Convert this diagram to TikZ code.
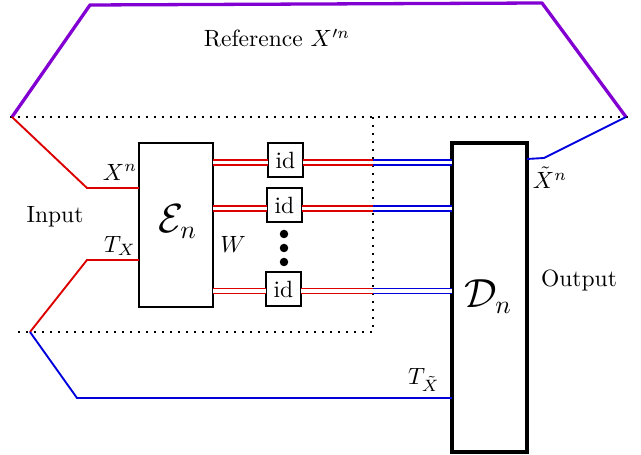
\documentclass[tikz,border=0pt]{standalone}
\usepackage{amsmath}
\begin{document}
\begin{tikzpicture}[x=0.425pt,y=-0.425pt,
  redc/.style={draw={rgb,255:red,220;green,0;blue,0}},
  bluec/.style={draw={rgb,255:red,0;green,0;blue,220}},
  sline/.style={line width=0.8pt},
  dline/.style={line width=0.6pt,double=white,double distance=1.5pt},
  dotline/.style={line width=0.9pt,dash pattern=on 0.9pt off 2.5pt},
  encbox/.style={draw,line width=0.95pt,inner sep=0pt,outer sep=0pt,minimum width=74*0.425pt,minimum height=164*0.425pt},
  decbox/.style={draw,line width=1.3pt,inner sep=0pt,outer sep=0pt,minimum width=75*0.425pt,minimum height=309*0.425pt},
  idbox/.style={draw,line width=0.95pt,inner sep=0pt,outer sep=0pt,minimum width=35*0.425pt,minimum height=34*0.425pt},
  bigdot/.style={circle,fill,inner sep=0pt,minimum size=8.5*0.425pt},
  lbl/.style={inner sep=0pt}
]
\useasboundingbox (0,0) rectangle (641,455);
% boxes
\node[encbox] (E) at (176,225) {};
\node[decbox] (D) at (489.5,297.5) {};
\node[idbox] (id1) at (285.5,160) {id};
\node[idbox] (id2) at (284.5,205) {id};
\node[idbox] (id3) at (283.5,289) {id};
\node[bigdot] (d1) at (284,234) {};
\node[bigdot] (d2) at (284,248) {};
\node[bigdot] (d3) at (284,262) {};
% coordinates
\coordinate (p1) at (12,117);
\coordinate (p2) at (626,117);
\coordinate (q1) at (30,332);
\coordinate (a1) at (87,188);
\coordinate (a2) at (87,260);
\coordinate (b1) at (77,398);
\coordinate (c1) at (544,158);
\coordinate (t1) at (90,5);
\coordinate (t2) at (542,3);
\coordinate (m1) at (373,162.5);
\coordinate (m2) at (373,208.5);
\coordinate (m3) at (373,291);
\coordinate (dl) at (10,117);
\coordinate (dr) at (628,117);
\coordinate (dv) at (373,117);
\coordinate (dc) at (373,332);
\coordinate (db) at (13,332);
% dotted frame
\draw[dotline] (dl) -- (dr);
\draw[dotline] (dv) -- (dc) -- (db);
% purple reference
\draw[line width=1.4pt,draw={rgb,255:red,130;green,0;blue,210},line join=round] (p1) -- (t1) -- (t2) -- (p2);
% input lines
\draw[redc,sline] (p1) -- (a1) -- (E.west |- a1);
\draw[redc,sline] (q1) -- (a2) -- (E.west |- a2);
% output lines
\draw[bluec,sline] (q1) -- (b1) -- (D.west |- b1);
\draw[bluec,sline] (D.east |- 0,159) -- (c1) -- (p2);
% double lines
\foreach \m/\i in {m1/id1,m2/id2,m3/id3}{
  \draw[redc,dline] (E.east |- \m) -- (\i.west |- \m);
  \draw[redc,dline] (\i.east |- \m) -- (\m);
  \draw[bluec,dline] (\m) -- (D.west |- \m);
}
% labels
\node[lbl] (lref) at (277,38) {Reference $X'^{n}$};
\node[lbl] (lin) at (55,217) {Input};
\node[lbl] (lout) at (579,280) {Output};
\node[lbl] (lxn) at (120,172) {$X^n$};
\node[lbl] (ltx) at (120,246) {$T_X$};
\node[lbl] (lw) at (233,244) {$W$};
\node[lbl] (lxt) at (550,178) {$\tilde{X}^n$};
\node[lbl] (ltt) at (424,380) {$T_{\tilde{X}}$};
\node[lbl,font=\fontsize{16}{18}\selectfont] (len) at (178,222) {$\mathcal{E}_n$};
\node[lbl,font=\fontsize{16}{18}\selectfont] (ldn) at (488,297) {$\mathcal{D}_n$};
\end{tikzpicture}
\end{document}
